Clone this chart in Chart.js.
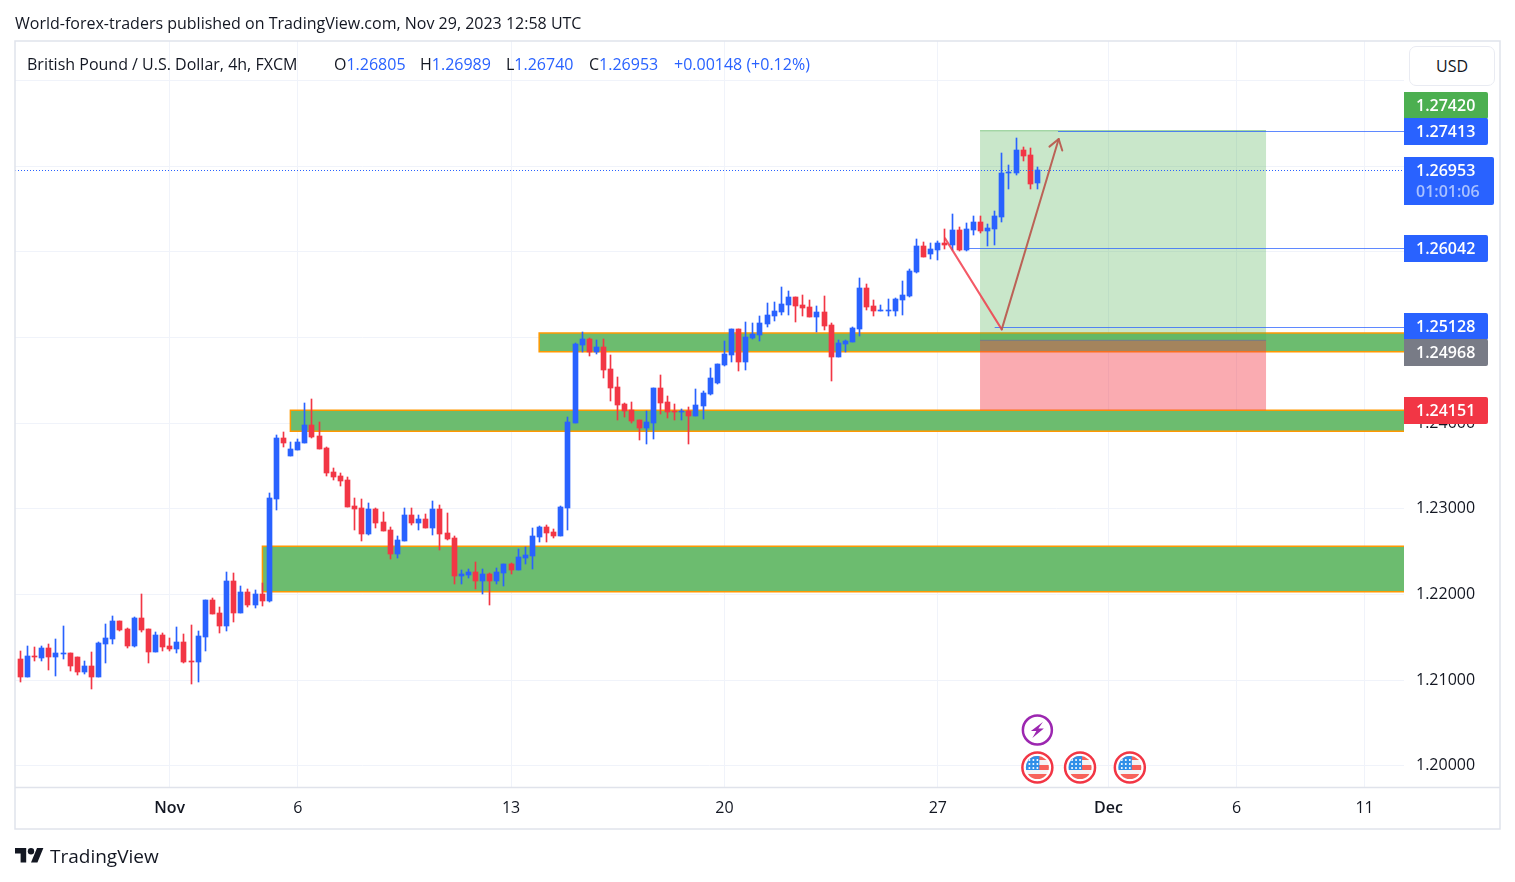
<!DOCTYPE html>
<html><head><meta charset="utf-8">
<script src="https://cdn.jsdelivr.net/npm/chart.js@4/dist/chart.umd.min.js"></script>
<style>
html,body{margin:0;padding:0;background:#fff;width:1515px;height:882px;overflow:hidden}
#wrap{position:relative;width:1515px;height:882px;font-family:"Open Sans",sans-serif;color:#131722}
canvas{position:absolute;left:0;top:0}
.t{position:absolute;white-space:nowrap;font-size:16px;line-height:20px}
.b{color:#2962ff}
#usd{position:absolute;left:1409px;top:46px;width:84px;height:38px;border:1.5px solid #e9ebf2;border-radius:7px;background:#fff;text-align:center;line-height:38px;font-size:16px}
</style></head><body><div id="wrap">
<canvas id="c" width="1515" height="882"></canvas>
<div class="t" style="left:15px;top:13px">World-forex-traders published on TradingView.com, Nov 29, 2023 12:58 UTC</div>
<div class="t" style="left:27px;top:54px">British Pound / U.S. Dollar, 4h, FXCM</div>
<div class="t" style="left:334px;top:54px">O<span class="b">1.26805</span></div>
<div class="t" style="left:420px;top:54px">H<span class="b">1.26989</span></div>
<div class="t" style="left:506px;top:54px">L<span class="b">1.26740</span></div>
<div class="t" style="left:589px;top:54px">C<span class="b">1.26953</span></div>
<div class="t b" style="left:674px;top:54px">+0.00148 (+0.12%)</div>
<div id="usd">USD</div>
<div class="t" style="left:50px;top:846px;font-size:19px">TradingView</div>
</div>
<script>
const opens=[1.21249,1.21043,1.21284,1.21261,1.21377,1.21272,1.21307,1.21319,1.21272,1.21097,1.21167,1.21039,1.21424,1.21482,1.21692,1.21599,1.21401,1.21727,1.21599,1.21331,1.21529,1.21401,1.21366,1.21447,1.21226,1.21214,1.21506,1.21937,1.21786,1.21634,1.22159,1.21786,1.22031,1.21879,1.22008,1.21926,1.23116,1.23828,1.23618,1.23688,1.2377,1.2398,1.23851,1.23711,1.23431,1.23385,1.23338,
1.23031,1.23008,1.22704,1.22996,1.22844,1.22751,1.22471,1.22622,1.22926,1.22832,1.22879,1.22774,1.22996,1.22716,1.22657,1.22214,1.22226,1.22261,1.22156,1.22237,1.22156,1.22249,1.22354,1.22284,1.22424,1.22447,1.22669,1.22786,1.22727,1.22681,1.23008,1.23999,1.2491,1.2498,1.24828,1.24886,1.2463,1.2442,1.24221,1.24151,1.24034,1.23941,1.23999,1.24408,1.24245,1.2414,
1.24137,1.24148,1.2409,1.24207,1.24347,1.24475,1.24685,1.24802,1.25105,1.2472,1.25,1.25035,1.25164,1.25257,1.25304,1.25385,1.25479,1.25385,1.25362,1.25245,1.25304,1.25152,1.24779,1.2493,1.24954,1.25105,1.25584,1.25374,1.25315,1.25315,1.25315,1.25444,1.2549,1.2577,1.26074,1.25981,1.26027,1.26109,1.26086,1.26261,1.26027,
1.26261,1.26354,1.26249,1.26272,1.26412,1.26926,1.26926,1.27194,1.27136,1.26805];
const highs=[1.21342,1.21401,1.21389,1.21401,1.21424,1.21482,1.21634,1.21319,1.21272,1.21226,1.21331,1.21447,1.21657,1.21751,1.21692,1.21611,1.21739,1.22008,1.21599,1.21564,1.21552,1.21494,1.21622,1.21541,1.21646,1.21576,1.21937,1.21961,1.21856,1.22264,1.22253,1.22101,1.22066,1.22054,1.22136,1.23186,1.23863,1.23898,1.23781,1.23816,1.24236,1.24283,1.24015,1.23723,1.23478,1.2342,1.23373,
1.23124,1.23113,1.23066,1.23008,1.22961,1.22786,1.22681,1.23008,1.23008,1.22926,1.22937,1.23089,1.23043,1.22949,1.22681,1.22284,1.22296,1.22377,1.22296,1.22249,1.22307,1.22354,1.22366,1.22529,1.22552,1.22774,1.22797,1.22809,1.22762,1.23031,1.2407,1.24933,1.25061,1.24991,1.24968,1.2498,1.24793,1.24536,1.24233,1.24245,1.24034,1.2414,1.24408,1.2456,1.24315,1.24221,
1.24172,1.24195,1.24405,1.24382,1.2465,1.24697,1.24965,1.25105,1.25105,1.25187,1.25175,1.25257,1.25409,1.2542,1.25595,1.25549,1.25479,1.25502,1.25444,1.25374,1.2549,1.25175,1.24977,1.24977,1.25129,1.257,1.2563,1.25444,1.25385,1.25455,1.25467,1.25665,1.25805,1.26156,1.26121,1.26109,1.26132,1.26272,1.26447,1.26296,1.26342,
1.26424,1.26424,1.26331,1.26482,1.27159,1.27019,1.27334,1.27229,1.27218,1.26989];
const lows=[1.20984,1.21043,1.2123,1.2123,1.21121,1.21051,1.21249,1.21109,1.21062,1.21074,1.20899,1.21039,1.21202,1.21424,1.21576,1.21377,1.21389,1.21564,1.21202,1.21331,1.21342,1.21342,1.21319,1.21202,1.20957,1.20981,1.21342,1.21774,1.21552,1.21576,1.21681,1.21786,1.21856,1.21844,1.21867,1.21914,1.22988,1.23723,1.23618,1.23688,1.2377,1.23828,1.237,1.23385,1.23338,1.23268,1.23023,
1.22751,1.22622,1.22692,1.22774,1.22739,1.22412,1.22424,1.22622,1.22809,1.22751,1.22774,1.22692,1.22517,1.22634,1.22121,1.22121,1.22191,1.22062,1.22004,1.21876,1.22121,1.22097,1.22237,1.22284,1.22354,1.22296,1.22611,1.22611,1.22657,1.22681,1.22751,1.23999,1.24828,1.24781,1.24805,1.24525,1.24256,1.24034,1.2407,1.23999,1.23801,1.23754,1.23813,1.24104,1.24058,1.24034,
1.24043,1.23752,1.2409,1.24055,1.24335,1.24463,1.24674,1.2472,1.24615,1.24627,1.24989,1.24965,1.25129,1.25199,1.25269,1.25269,1.25187,1.25257,1.25245,1.2507,1.25094,1.24498,1.24779,1.24837,1.24954,1.25024,1.25327,1.25257,1.25315,1.25257,1.25257,1.25269,1.25479,1.25759,1.25946,1.25922,1.25911,1.26039,1.26027,1.26016,1.26016,
1.26202,1.26226,1.26074,1.26086,1.26354,1.26739,1.26902,1.27066,1.26739,1.2674];
const closes=[1.21043,1.21284,1.21272,1.21377,1.21272,1.21319,1.21319,1.21167,1.21097,1.21167,1.21039,1.21436,1.21494,1.21692,1.21587,1.21401,1.21727,1.21587,1.21331,1.21529,1.21389,1.21366,1.21447,1.21214,1.21214,1.21517,1.21937,1.21774,1.21634,1.22159,1.21786,1.22031,1.21879,1.22008,1.21926,1.23128,1.23828,1.2377,1.237,1.23781,1.2398,1.2384,1.237,1.2342,1.23373,1.23326,1.23023,
1.22996,1.22704,1.22996,1.22832,1.22739,1.22471,1.22634,1.22926,1.22832,1.22879,1.22774,1.22996,1.22704,1.22646,1.22214,1.22237,1.22261,1.22156,1.22237,1.22156,1.22261,1.22354,1.22284,1.22436,1.22459,1.22681,1.22786,1.22716,1.22681,1.23019,1.24011,1.24921,1.2498,1.24828,1.24886,1.24618,1.24408,1.2421,1.2414,1.24023,1.23941,1.24011,1.24408,1.24233,1.24128,1.24128,
1.24148,1.2409,1.24218,1.24358,1.24533,1.24697,1.24814,1.25105,1.2472,1.25012,1.25047,1.25175,1.25269,1.25315,1.25397,1.25479,1.25374,1.2535,1.25245,1.25304,1.2514,1.24779,1.24942,1.24965,1.25117,1.25584,1.25362,1.25315,1.25327,1.25327,1.25455,1.25502,1.25782,1.26074,1.25946,1.26039,1.26109,1.26086,1.26261,1.26027,1.26272,
1.26354,1.26249,1.26284,1.26424,1.26926,1.26937,1.27194,1.27124,1.26797,1.26953];
const xTickIndex=[21,39,69,99,129,153,171,189];
const xTickLabels=['Nov','6','13','20','27','Dec','6','11'];
const yTicks=[1.20,1.21,1.22,1.23,1.24,1.25,1.26,1.27,1.28];
const zoneStart=[72.95,37.97,34.04];
const zoneTop=[1.25053,1.24151,1.22563];
const zoneBottom=[1.24835,1.23906,1.22033];
const positionStart=horizStart(980), positionEnd=horizStart(1266);
function horizStart(px){return (px-20.33)/7.112;}
const positionTop=1.2742, positionEntry=1.24968, positionStop=1.24151;
const levelPrice=[1.27413,1.26042,1.25128];
const levelStart=[145.9,133.2,137];
const lastPrice=1.26953;
const pathIndex=[130.02,137.99,146];
const pathPrice=[1.26158,1.25096,1.27318];
const lightningIndex=[143];
const flagIndex=[143,149,156];
const tagTexts=['1.27420','1.27413','1.26042','1.25128','1.24968','1.24151'];
const tagColors=['#4caf50','#2962ff','#2962ff','#2962ff','#787b86','#f23645'];
const tagCenterY=[105,131.5,248.5,326,352.5,410.5];

const BLUE='#2962ff',RED='#f23645',FONT='"Open Sans",sans-serif';
const n=opens.length;
const cols=opens.map((o,i)=>closes[i]>=o?BLUE:RED);
const bodies=opens.map((o,i)=>({x:i,y:[Math.min(o,closes[i]),Math.max(o,closes[i])]}));
const wicks=opens.map((o,i)=>({x:i,y:[lows[i],highs[i]]}));

function rr(c,x,y,w,h,r){c.beginPath();c.roundRect(x,y,w,h,r);}
const overlay={
 id:'overlay',
 afterDatasetsUpdate(ch){
  ch.data.datasets.forEach((d,di)=>{
   ch.getDatasetMeta(di).data.forEach(el=>{
    el.x=Math.round(el.x-.5)+.5;
    el.y=Math.round(el.y);el.base=Math.round(el.base);
    if(el.base===el.y)el.base=el.y+1;
   });
  });
 },
 beforeDatasetsDraw(ch){
  const c=ch.ctx,X=ch.scales.x,Y=ch.scales.y,A=ch.chartArea;
  c.save();c.beginPath();c.rect(A.left,A.top,A.right-A.left,A.bottom-A.top);c.clip();
  zoneStart.forEach((s,i)=>{
   const x=X.getPixelForValue(s),y=Y.getPixelForValue(zoneTop[i]),b=Y.getPixelForValue(zoneBottom[i]);
   c.fillStyle='#6cbc6f';c.fillRect(x,y,A.right-x,b-y);
   c.strokeStyle='#ff9800';c.lineWidth=1.5;
   c.beginPath();c.moveTo(A.right,y);c.lineTo(x,y);c.lineTo(x,b);c.lineTo(A.right,b);c.stroke();
  });
  const l=X.getPixelForValue(positionStart),r=X.getPixelForValue(positionEnd);
  const t=Y.getPixelForValue(positionTop),e=Y.getPixelForValue(positionEntry),s=Y.getPixelForValue(positionStop);
  c.fillStyle='rgba(76,175,80,.3)';c.fillRect(l,t,r-l,e-t);
  c.fillStyle='rgba(242,54,69,.42)';c.fillRect(l,e,r-l,s-e);
  c.strokeStyle='rgba(76,175,80,.5)';c.lineWidth=1;c.beginPath();c.moveTo(l,t+.5);c.lineTo(r,t+.5);c.stroke();
  c.strokeStyle='#787b86';c.beginPath();c.moveTo(l,e);c.lineTo(r,e);c.stroke();
  c.restore();
 },
 afterDatasetsDraw(ch){
  const c=ch.ctx,X=ch.scales.x,Y=ch.scales.y,A=ch.chartArea;
  c.save();
  c.beginPath();c.rect(A.left,A.top,A.right-A.left,A.bottom-A.top);c.clip();
  // dotted last price
  c.strokeStyle=BLUE;c.lineWidth=1;c.setLineDash([1,2]);
  const ly=Math.round(Y.getPixelForValue(lastPrice))+.5;
  c.beginPath();c.moveTo(A.left,ly);c.lineTo(A.right,ly);c.stroke();c.setLineDash([]);
  // levels
  levelPrice.forEach((p,i)=>{
   const y=Math.round(Y.getPixelForValue(p))+.5;
   c.strokeStyle='rgba(41,98,255,.75)';c.beginPath();c.moveTo(X.getPixelForValue(levelStart[i]),y);c.lineTo(A.right,y);c.stroke();
  });
  // path
  const px=pathIndex.map(v=>X.getPixelForValue(v)),py=pathPrice.map(v=>Y.getPixelForValue(v));
  c.lineWidth=2;c.lineCap='round';c.lineJoin='round';
  c.strokeStyle='rgba(242,54,69,.82)';c.beginPath();c.moveTo(px[0],py[0]);c.lineTo(px[1],py[1]);c.stroke();
  c.strokeStyle='rgba(186,92,80,.95)';c.beginPath();c.moveTo(px[1],py[1]);c.lineTo(px[2],py[2]);c.stroke();
  const ang=Math.atan2(py[2]-py[1],px[2]-px[1]);
  c.beginPath();
  c.moveTo(px[2]+12*Math.cos(ang+2.55),py[2]+12*Math.sin(ang+2.55));
  c.lineTo(px[2],py[2]);
  c.lineTo(px[2]+12*Math.cos(ang-2.55),py[2]+12*Math.sin(ang-2.55));
  c.stroke();
  c.restore();
  // events
  lightningIndex.forEach(i=>drawBolt(c,X.getPixelForValue(i),730));
  flagIndex.forEach(i=>drawFlag(c,X.getPixelForValue(i),767.5));
 },
 afterDraw(ch){
  const c=ch.ctx;
  c.save();
  c.textBaseline='middle';c.textAlign='left';
  tagTexts.forEach((t,i)=>{
   const h=27,y=Math.round(tagCenterY[i]-h/2);
   c.fillStyle=tagColors[i];rr(c,1404,y,84,h,[0,2,2,0]);c.fill();
   c.fillStyle='#fff';c.font='600 16px '+FONT;c.fillText(t,1416,y+h/2+.5);
  });
  c.fillStyle=BLUE;rr(c,1404,157,90,48,[0,2,2,0]);c.fill();
  c.fillStyle='#fff';c.font='600 16px '+FONT;c.fillText('1.26953',1416,171);
  c.fillStyle='#a9c1ff';c.fillText('01:01:06',1416,192);
  // frame
  c.strokeStyle='#e0e3eb';c.lineWidth=1.5;c.strokeRect(15,41,1485,788);
  c.beginPath();c.moveTo(15,787.5);c.lineTo(1500,787.5);c.stroke();
  // logo
  c.translate(15,844.8);c.scale(.8,.8);c.fillStyle='#131722';
  c.fill(new Path2D('M14 22H7V11H0V4h14v18zM28 22h-8l7.5-18h8L28 22z'));
  c.beginPath();c.arc(20,8,4,0,7);c.fill();
  c.restore();
 }
};
function drawBolt(c,x,y){
 c.save();c.beginPath();c.arc(x,y,14.5,0,7);c.fillStyle='#fff';c.fill();c.strokeStyle='#9c27b0';c.lineWidth=2.5;c.stroke();
 c.fillStyle='#9c27b0';c.beginPath();
 c.moveTo(x+5.5,y-8);c.lineTo(x-6.5,y+1);c.lineTo(x-1,y+1);c.lineTo(x-5,y+8);c.lineTo(x+6.5,y-1.5);c.lineTo(x+1,y-1.5);c.closePath();c.fill();
 c.restore();
}
function drawFlag(c,x,y){
 c.save();c.beginPath();c.arc(x,y,15,0,7);c.fillStyle='#fff';c.fill();c.strokeStyle='#f23645';c.lineWidth=2.5;c.stroke();
 c.beginPath();c.arc(x,y,11.5,0,7);c.clip();
 c.fillStyle='#f4f4f6';c.fillRect(x-12,y-12,24,24);
 c.fillStyle='#f7625b';
 c.fillRect(x-12,y-11.5,24,4);c.fillRect(x,y-2.5,12,5);c.fillRect(x-12,y+6.5,24,6);
 c.fillStyle='#2f8fe8';c.fillRect(x-12,y-12,14,14.5);
 c.fillStyle='#fff';
 for(let a=0;a<3;a++)for(let b=0;b<3;b++){c.beginPath();c.arc(x-8+b*4,y-7.5+a*4,1,0,7);c.fill();}
 c.restore();
}
new Chart(document.getElementById('c'),{
 type:'bar',
 data:{datasets:[
  {label:'Body',data:bodies,backgroundColor:cols,barThickness:5,order:1,grouped:false,borderWidth:0},
  {label:'Wick',data:wicks,backgroundColor:cols,barThickness:1,order:2,grouped:false,borderWidth:0}
 ]},
 plugins:[overlay],
 options:{
  responsive:false,animation:false,devicePixelRatio:1,
  layout:{padding:{left:15,right:15,top:41,bottom:53}},
  plugins:{legend:{display:false},tooltip:{enabled:false},title:{display:false}},
  scales:{
   x:{type:'linear',offset:false,min:-0.75,max:194.55,
    grid:{color:'#f0f3fa',offset:false,drawTicks:false},border:{display:false},
    afterBuildTicks(s){s.ticks=xTickIndex.map(v=>({value:v}));},
    afterFit(s){s.height=42;},
    ticks:{autoSkip:false,maxRotation:0,padding:12,color:'#131722',
     font:ctx=>({family:FONT,size:16,weight:(ctx.tick&&(xTickIndex.indexOf(ctx.tick.value)===0||xTickIndex.indexOf(ctx.tick.value)===5))?'600':'400'}),
     callback:v=>xTickLabels[xTickIndex.indexOf(v)]}},
   y:{type:'linear',position:'right',min:1.19754,max:1.28462,
    grid:{color:'#f0f3fa',drawTicks:false},border:{display:false},
    afterBuildTicks(s){s.ticks=yTicks.map(v=>({value:v}));},
    afterFit(s){s.width=96;},
    ticks:{padding:12,color:'#131722',font:{family:FONT,size:16},callback:v=>v.toFixed(5)}}
  }
 }
});
</script></body></html>
